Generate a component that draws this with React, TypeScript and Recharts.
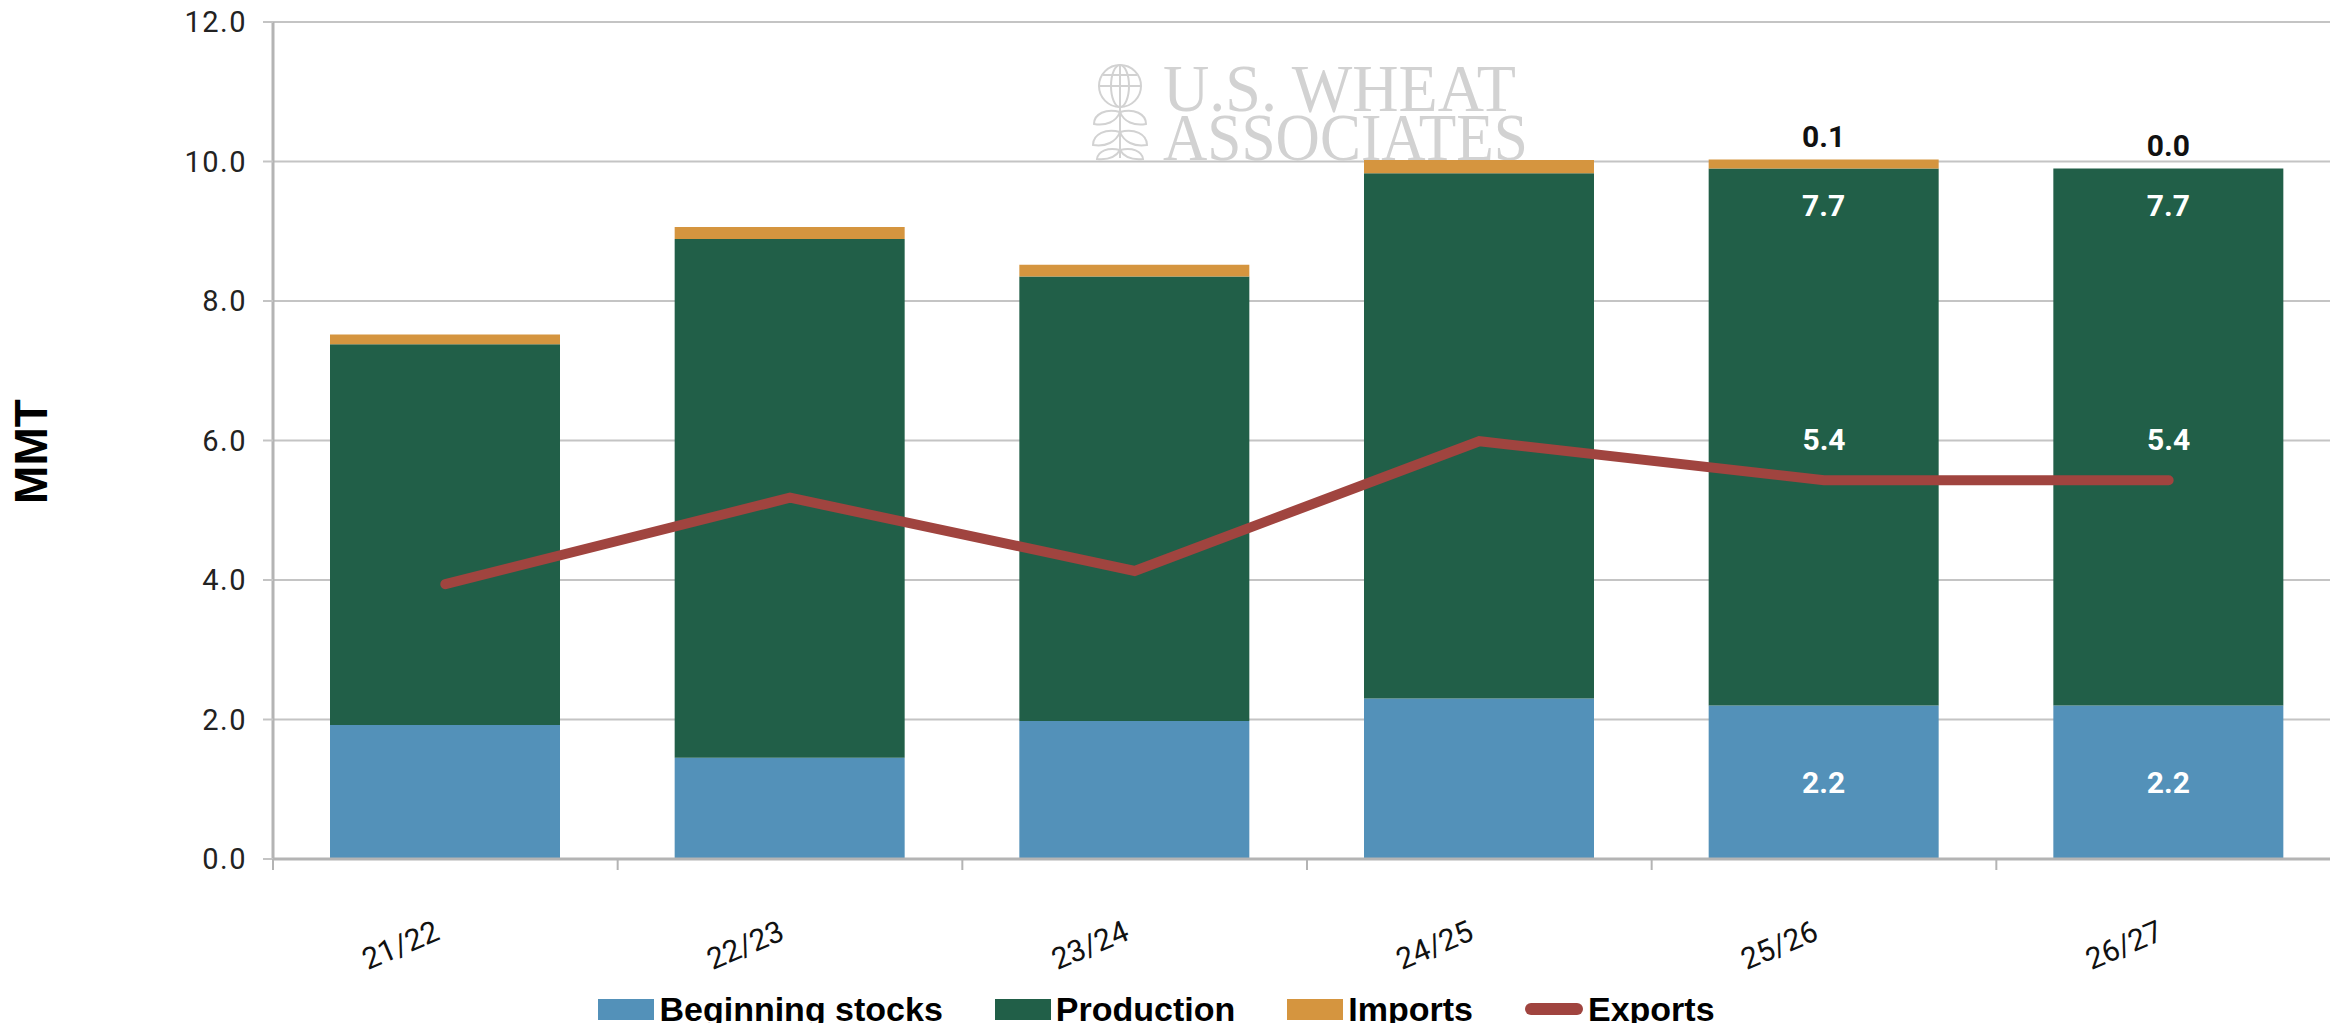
import React from 'react';
import { ComposedChart, Bar, Line, XAxis, YAxis, CartesianGrid, Legend, LabelList } from 'recharts';

// Supply and exports by marketing year, MMT
const years = ['21/22', '22/23', '23/24', '24/25', '25/26', '26/27'];
const beginningStocks = [1.92, 1.45, 1.98, 2.3, 2.2, 2.2];
const production = [5.46, 7.44, 6.37, 7.53, 7.7, 7.7];
const imports = [0.14, 0.17, 0.17, 0.19, 0.13, 0.0];
const exportsMmt = [3.94, 5.18, 4.13, 5.99, 5.43, 5.43];
const yTicks = [0, 2, 4, 6, 8, 10, 12];
const labeledYears = ['25/26', '26/27'];
const legendOrder = ['Beginning stocks', 'Production', 'Imports', 'Exports'];

const data = years.map((year, i) => ({
  year,
  beginningStocks: beginningStocks[i],
  production: production[i],
  imports: imports[i],
  exports: exportsMmt[i],
}));

const CHART_W = 2341;
const CHART_H = 1023;
const Y_AXIS_W = 273;
const BAND = (CHART_W - Y_AXIS_W) / years.length;

const colors = {
  beginningStocks: '#5391b9',
  production: '#215f48',
  imports: '#d5953f',
  exports: '#a0443f',
};

const gridColor = '#c4c4c4';
const axisColor = '#b4b4b4';
const labelFont = 'Roboto, "Liberation Sans", sans-serif';

function showLabel(index: number) {
  return labeledYears.includes(years[index]);
}

function XTick(props: any) {
  const { x, y, payload, index } = props;
  return (
    <g>
      {index === 0 && (
        <line x1={x - BAND / 2} x2={x - BAND / 2} y1={y} y2={y + 11} stroke={axisColor} strokeWidth={2} />
      )}
      <line x1={x + BAND / 2} x2={x + BAND / 2} y1={y} y2={y + 11} stroke={axisColor} strokeWidth={2} />
      <text
        x={x - 4}
        y={y + 80}
        textAnchor="end"
        transform={`rotate(-23, ${x - 4}, ${y + 80})`}
        fontFamily={labelFont}
        fontSize={30}
        fill="#111"
      >
        {payload.value}
      </text>
    </g>
  );
}

function InsideCenterLabel(props: any) {
  const { x, y, width, height, value, index } = props;
  if (!showLabel(index)) return null;
  return (
    <text x={x + width / 2} y={y + height / 2} textAnchor="middle" dominantBaseline="central"
      fontFamily={labelFont} fontWeight={700} fontSize={30} fill="#fff">
      {Number(value).toFixed(1)}
    </text>
  );
}

function InsideTopLabel(props: any) {
  const { x, y, width, value, index } = props;
  if (!showLabel(index)) return null;
  return (
    <text x={x + width / 2} y={y + 48} textAnchor="middle"
      fontFamily={labelFont} fontWeight={700} fontSize={30} fill="#fff">
      {Number(value).toFixed(1)}
    </text>
  );
}

// imports label sits above the whole stack; drawn from the production rect so a 0.0 still shows
function StackTopLabel(props: any) {
  const { x, y, width, height, value, index } = props;
  if (!showLabel(index)) return null;
  const pxPerUnit = height / production[index];
  const top = y - Number(value) * pxPerUnit;
  return (
    <text x={x + width / 2} y={top - 12} textAnchor="middle"
      fontFamily={labelFont} fontWeight={700} fontSize={30} fill="#111">
      {Number(value).toFixed(1)}
    </text>
  );
}

function PointLabel(props: any) {
  const { x, y, value, index } = props;
  if (!showLabel(index)) return null;
  return (
    <text x={x} y={y - 30} textAnchor="middle"
      fontFamily={labelFont} fontWeight={700} fontSize={30} fill="#fff">
      {Number(value).toFixed(1)}
    </text>
  );
}

function MmtLabel(props: any) {
  const { viewBox } = props;
  const cx = viewBox.x + 31;
  const cy = viewBox.y + viewBox.height / 2 + 11;
  return (
    <text x={cx} y={cy} textAnchor="middle" dominantBaseline="central"
      transform={`rotate(-90, ${cx}, ${cy})`}
      fontFamily='"Liberation Sans", Arial, sans-serif' fontWeight={700} fontSize={46} fill="#000">
      MMT
    </text>
  );
}

function renderLegend(props: any) {
  const payload = [...(props.payload || [])].sort(
    (a: any, b: any) => legendOrder.indexOf(a.value) - legendOrder.indexOf(b.value)
  );
  return (
    <div style={{
      display: 'flex', justifyContent: 'center', height: 54, boxSizing: 'border-box',
      paddingTop: 26, paddingRight: 28, gap: 52,
      fontFamily: '"Liberation Sans", Arial, sans-serif', fontWeight: 700, fontSize: 34, lineHeight: 1, color: '#000',
    }}>
      {payload.map((entry: any) => (
        <div key={entry.value} style={{ display: 'flex', alignItems: 'center', gap: 5 }}>
          {entry.type === 'line' ? (
            <span style={{ display: 'inline-block', width: 58, height: 12, borderRadius: 6, background: entry.color }} />
          ) : (
            <span style={{ display: 'inline-block', width: 56, height: 21, background: entry.color }} />
          )}
          <span>{entry.value}</span>
        </div>
      ))}
    </div>
  );
}

function Watermark() {
  const c = '#d2d2d2';
  return (
    <svg width={2330} height={1023} style={{ position: 'absolute', left: 0, top: 0 }}>
      <g stroke={c} strokeWidth={2} fill="none">
        <circle cx={1120} cy={86} r={21} />
        <ellipse cx={1120} cy={86} rx={9} ry={21} />
        <line x1={1099} x2={1141} y1={86} y2={86} />
        <line x1={1103} x2={1137} y1={75} y2={75} />
        <line x1={1120} x2={1120} y1={65} y2={158} />
        <path d="M1120 112 C1106 108 1094 114 1094 124 C1106 126 1116 122 1120 112 Z" />
        <path d="M1120 112 C1134 108 1146 114 1146 124 C1134 126 1124 122 1120 112 Z" />
        <path d="M1120 132 C1106 128 1093 134 1093 145 C1106 147 1116 142 1120 132 Z" />
        <path d="M1120 132 C1134 128 1147 134 1147 145 C1134 147 1124 142 1120 132 Z" />
        <path d="M1120 150 C1108 147 1098 151 1097 159 C1108 160 1116 157 1120 150 Z" />
        <path d="M1120 150 C1132 147 1142 151 1143 159 C1132 160 1124 157 1120 150 Z" />
      </g>
      <g fill={c} fontFamily='"Liberation Serif", "DejaVu Serif", serif' fontSize={68}>
        <text x={1163} y={111} textLength={353} lengthAdjust="spacingAndGlyphs">U.S. WHEAT</text>
        <text x={1163} y={160} textLength={365} lengthAdjust="spacingAndGlyphs">ASSOCIATES</text>
      </g>
    </svg>
  );
}

export default function App() {
  return (
    <div style={{ position: 'absolute', left: 0, top: 0, width: 2330, height: 1023, overflow: 'hidden', background: '#fff' }}>
      <Watermark />
      <div style={{ position: 'absolute', left: 0, top: 0 }}>
        <ComposedChart
          width={CHART_W}
          height={CHART_H}
          data={data}
          margin={{ top: 22, right: 0, bottom: 0, left: 0 }}
        >
          <CartesianGrid vertical={false} stroke={gridColor} strokeWidth={2} />
          <XAxis
            dataKey="year"
            height={110}
            tickLine={false}
            tickSize={0}
            tickMargin={0}
            axisLine={{ stroke: axisColor, strokeWidth: 3 }}
            tick={<XTick />}
            interval={0}
          />
          <YAxis
            width={Y_AXIS_W}
            domain={[0, 12]}
            ticks={yTicks}
            tickFormatter={(v: number) => v.toFixed(1)}
            tickSize={10}
            tickMargin={16}
            tickLine={{ stroke: gridColor, strokeWidth: 2 }}
            axisLine={{ stroke: axisColor, strokeWidth: 3 }}
            tick={{ fontFamily: labelFont, fontSize: 29, fill: '#222', letterSpacing: 1.5 }}
            label={<MmtLabel />}
          />
          <Legend verticalAlign="bottom" height={54} content={renderLegend} />
          <Bar dataKey="beginningStocks" name="Beginning stocks" stackId="s" fill={colors.beginningStocks} barSize={230} isAnimationActive={false}>
            <LabelList dataKey="beginningStocks" content={<InsideCenterLabel />} />
          </Bar>
          <Bar dataKey="production" name="Production" stackId="s" fill={colors.production} barSize={230} isAnimationActive={false}>
            <LabelList dataKey="production" content={<InsideTopLabel />} />
            <LabelList dataKey="imports" content={<StackTopLabel />} />
          </Bar>
          <Bar dataKey="imports" name="Imports" stackId="s" fill={colors.imports} barSize={230} isAnimationActive={false} />
          <Line
            type="linear"
            dataKey="exports"
            name="Exports"
            stroke={colors.exports}
            strokeWidth={10}
            strokeLinecap="round"
            dot={false}
            activeDot={false}
            isAnimationActive={false}
          >
            <LabelList dataKey="exports" content={<PointLabel />} />
          </Line>
        </ComposedChart>
      </div>
    </div>
  );
}
